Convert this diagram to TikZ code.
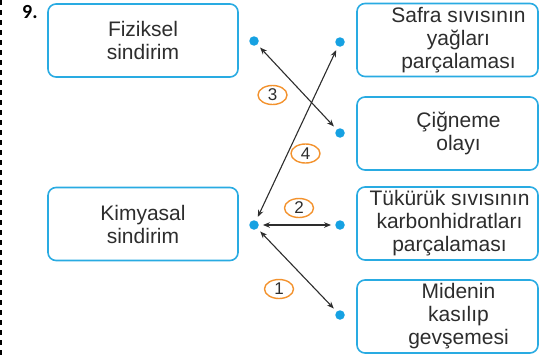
\documentclass[tikz,border=0pt]{standalone}
\usepackage{fontspec}
\setmainfont{Liberation Sans}
\newfontfamily\numfont{Carlito}
\usepackage{tikz}
\usetikzlibrary{shapes.geometric, arrows.meta}
\definecolor{boxblue}{RGB}{41,171,226}
\definecolor{dotblue}{RGB}{22,161,226}
\definecolor{numorange}{RGB}{243,146,45}
\definecolor{txtgray}{RGB}{45,45,45}
\newcommand{\matchdot}[2]{
    \node[matchpoint] (#1) at (#2) {};
}
\tikzset{
    leftbox/.style={draw=boxblue, line width=1.6pt, rounded corners=8pt, minimum width=190pt, minimum height=73pt, inner sep=0pt},
    rightbox/.style={leftbox, minimum width=181pt},
    boxtext/.style={align=center, text=txtgray, font=\fontsize{21}{23}\selectfont},
    matchpoint/.style={circle, fill=dotblue, inner sep=0pt, minimum size=9.5pt},
    pairline/.style={{Stealth[length=7pt,width=5.5pt]}-{Stealth[length=7pt,width=5.5pt]}, line width=1.1pt, draw=txtgray, shorten <=4pt, shorten >=4pt},
    numlabel/.style={ellipse, draw=numorange, line width=1.4pt, minimum width=29pt, minimum height=19pt, inner sep=0pt, text=txtgray, font=\fontsize{17}{17}\selectfont}
}

\begin{document}
\begin{tikzpicture}[x=1pt, y=-1pt]
        \useasboundingbox (0,0) rectangle (544,356);
        \draw[line width=1.5pt, dash pattern=on 5pt off 5pt] (0.75,0) -- (0.75,356);
        \node[anchor=west, inner sep=0pt, font=\numfont\bfseries\fontsize{20}{20}\selectfont] (qnum) at (22,12) {9.};
        % left column
        \node[leftbox] (fiziksel) at (143,40.5) {};
        \node[boxtext] at (fiziksel.center) {Fiziksel\\sindirim};
        \node[leftbox] (kimyasal) at (143,224) {};
        \node[boxtext] at (kimyasal.center) {Kimyasal\\sindirim};
        % right column
        \node[rightbox] (safra) at (447.5,40) {};
        \node[boxtext] at ([xshift=11pt]safra.center) {Safra sıvısının\\yağları\\parçalaması};
        \node[rightbox] (cigneme) at (447.5,133.5) {};
        \node[boxtext] at ([xshift=11pt]cigneme.center) {Çiğneme\\olayı};
        \node[rightbox] (tukuruk) at (447.5,223.5) {};
        \node[boxtext] at ([xshift=2pt]tukuruk.center) {Tükürük sıvısının\\karbonhidratları\\parçalaması};
        \node[rightbox] (mide) at (447.5,316.5) {};
        \node[boxtext] at ([xshift=11pt]mide.center) {Midenin\\kasılıp\\gevşemesi};
        \matchdot{fdot}{254,41}
        \matchdot{kdot}{254,225}
        \matchdot{sdot}{340,42}
        \matchdot{cdot}{340,133}
        \matchdot{tdot}{340,225}
        \matchdot{mdot}{340,315}
        \draw[pairline] (fdot) -- (cdot);
        \draw[pairline] (kdot) -- (sdot);
        \draw[pairline] (kdot) -- (tdot);
        \draw[pairline] (kdot) -- (mdot);
        \node[numlabel] (n3) at (272.5,95) {3};
        \node[numlabel] (n4) at (305.5,153.5) {4};
        \node[numlabel] (n2) at (299,208) {2};
        \node[numlabel] (n1) at (279,289) {1};
\end{tikzpicture}
\end{document}
